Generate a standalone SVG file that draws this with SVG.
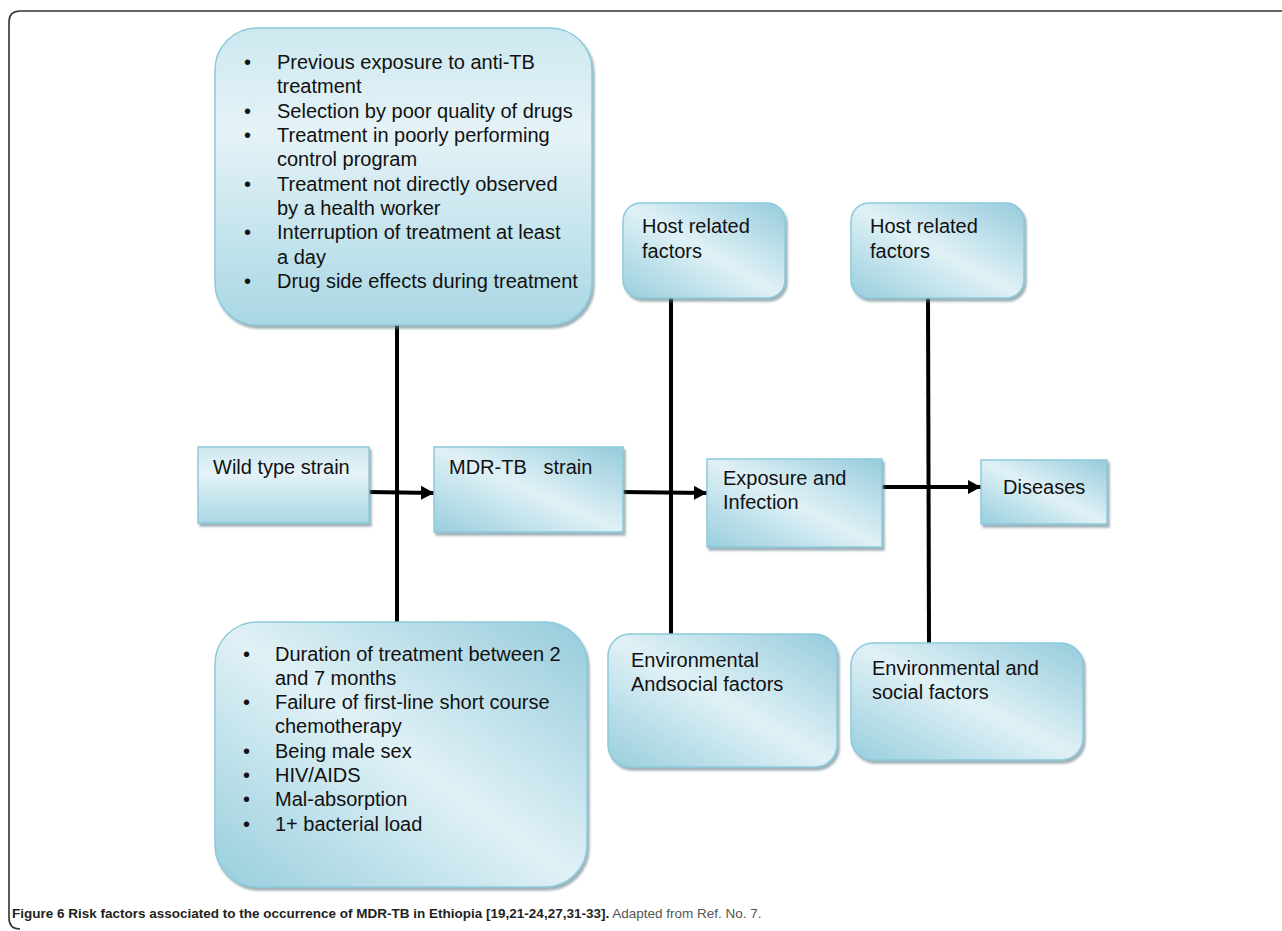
<svg xmlns="http://www.w3.org/2000/svg" width="1282" height="931" viewBox="0 0 1282 931">
<defs>
<linearGradient id="gv" x1="0" y1="0" x2="0" y2="1">
<stop offset="0" stop-color="#cde8f0"/>
<stop offset="0.35" stop-color="#e5f3f7"/>
<stop offset="1" stop-color="#a9d7e4"/>
</linearGradient>
<linearGradient id="gd" x1="1" y1="0" x2="0" y2="1">
<stop offset="0" stop-color="#95cbdb"/>
<stop offset="0.5" stop-color="#e0f1f6"/>
<stop offset="1" stop-color="#98cedd"/>
</linearGradient>
<filter id="sh" x="-5%" y="-5%" width="115%" height="115%">
<feDropShadow dx="2" dy="3" stdDeviation="1" flood-color="#5f7f88" flood-opacity="0.6"/>
</filter>
<marker id="ah" markerUnits="userSpaceOnUse" markerWidth="14" markerHeight="16" refX="13" refY="8" orient="auto">
<path d="M0,1 L13,8 L0,15 Z" fill="#000"/>
</marker>
</defs>
<style>
.box{stroke:#8ccadb;stroke-width:1.5;filter:url(#sh)}
.v{fill:url(#gv)}
.d{fill:url(#gd)}
.t{font-family:"Liberation Sans",Arial,sans-serif;font-size:20px;fill:#111}
.c{stroke:#000;stroke-width:4;fill:none}
.a{stroke:#000;stroke-width:4;fill:none;marker-end:url(#ah)}
</style>
<rect width="1282" height="931" fill="#fff"/>
<path d="M1282,11 H20 Q9,11 9,22 V918 Q9,929 20,929" fill="none" stroke="#333" stroke-width="1.6"/>

<g id="connectors">
<line class="c" x1="397" y1="325" x2="397" y2="622"/>
<line class="c" x1="671" y1="298" x2="671" y2="634"/>
<line class="c" x1="928" y1="298" x2="929" y2="643"/>
<line class="a" x1="369" y1="492" x2="434" y2="493"/>
<line class="a" x1="623" y1="492" x2="707" y2="493"/>
<line class="a" x1="882" y1="487" x2="981" y2="487"/>
</g>

<g id="top-box">
<rect class="box v" x="215" y="28" width="377" height="297" rx="42"/>
<text class="t" x="244" y="69">•</text><text class="t" x="277" y="69">Previous exposure to anti-TB</text>
<text class="t" x="277" y="93">treatment</text>
<text class="t" x="244" y="118">•</text><text class="t" x="277" y="118">Selection by poor quality of drugs</text>
<text class="t" x="244" y="142">•</text><text class="t" x="277" y="142">Treatment in poorly performing</text>
<text class="t" x="277" y="166">control program</text>
<text class="t" x="244" y="191">•</text><text class="t" x="277" y="191">Treatment not directly observed</text>
<text class="t" x="277" y="215">by a health worker</text>
<text class="t" x="244" y="239">•</text><text class="t" x="277" y="239">Interruption of treatment at least</text>
<text class="t" x="277" y="264">a day</text>
<text class="t" x="244" y="288">•</text><text class="t" x="277" y="288">Drug side effects during treatment</text>
</g>

<g id="wild-type">
<rect class="box v" x="198" y="447" width="171" height="76"/>
<text class="t" x="213" y="474">Wild type strain</text>
</g>

<g id="mdr-tb">
<rect class="box d" x="434" y="447" width="189" height="85"/>
<text class="t" x="449" y="474" xml:space="preserve">MDR-TB   strain</text>
</g>

<g id="exposure">
<rect class="box d" x="707" y="459" width="175" height="88"/>
<text class="t" x="723" y="485">Exposure and</text>
<text class="t" x="723" y="509">Infection</text>
</g>

<g id="diseases">
<rect class="box d" x="981" y="460" width="126" height="64"/>
<text class="t" x="1003" y="494">Diseases</text>
</g>

<g id="host-1">
<rect class="box d" x="623" y="203" width="162" height="95" rx="18"/>
<text class="t" x="642" y="233">Host related</text>
<text class="t" x="642" y="258">factors</text>
</g>

<g id="host-2">
<rect class="box d" x="851" y="203" width="173" height="95" rx="18"/>
<text class="t" x="870" y="233">Host related</text>
<text class="t" x="870" y="258">factors</text>
</g>

<g id="env-1">
<rect class="box d" x="608" y="634" width="229" height="133" rx="22"/>
<text class="t" x="631" y="667">Environmental</text>
<text class="t" x="631" y="691">Andsocial factors</text>
</g>

<g id="env-2">
<rect class="box d" x="851" y="643" width="232" height="117" rx="22"/>
<text class="t" x="872" y="675">Environmental and</text>
<text class="t" x="872" y="699">social factors</text>
</g>

<g id="bottom-box">
<rect class="box d" x="215" y="622" width="372" height="265" rx="42"/>
<text class="t" x="243" y="661">•</text><text class="t" x="275" y="661">Duration of treatment between 2</text>
<text class="t" x="275" y="685">and 7 months</text>
<text class="t" x="243" y="709">•</text><text class="t" x="275" y="709">Failure of first-line short course</text>
<text class="t" x="275" y="733">chemotherapy</text>
<text class="t" x="243" y="758">•</text><text class="t" x="275" y="758">Being male sex</text>
<text class="t" x="243" y="782">•</text><text class="t" x="275" y="782">HIV/AIDS</text>
<text class="t" x="243" y="806">•</text><text class="t" x="275" y="806">Mal-absorption</text>
<text class="t" x="243" y="831">•</text><text class="t" x="275" y="831">1+ bacterial load</text>
</g>

<g id="caption">
<text x="12" y="918" font-family="'Liberation Sans Narrow','Liberation Sans',sans-serif" font-size="13.5"><tspan font-weight="bold" fill="#231f20">Figure 6 Risk factors associated to the occurrence of MDR-TB in Ethiopia [19,21-24,27,31-33].</tspan><tspan fill="#555"> Adapted from Ref. No. 7.</tspan></text>
</g>
</svg>
